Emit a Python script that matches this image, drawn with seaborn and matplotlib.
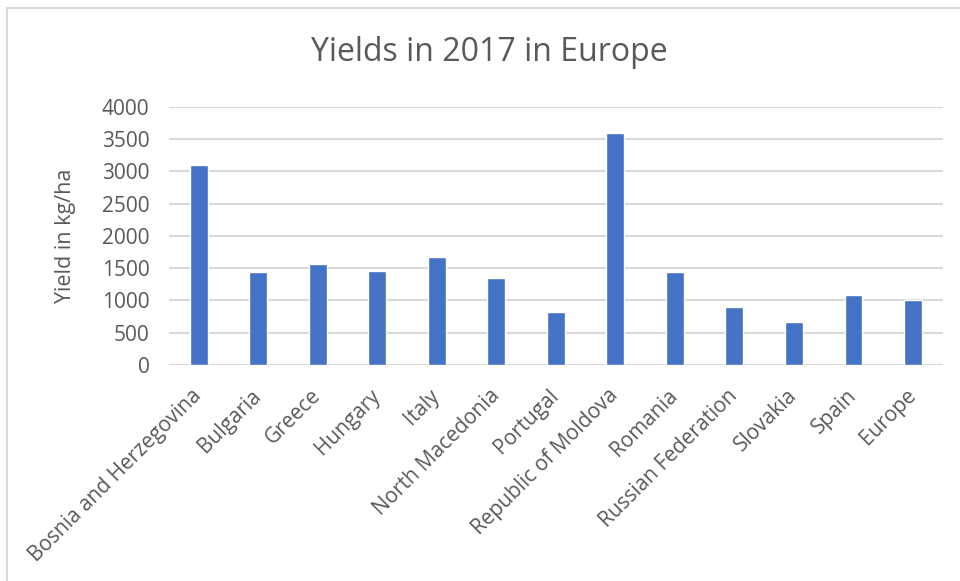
import matplotlib
matplotlib.use("Agg")
import matplotlib.pyplot as plt
import seaborn as sns
import pandas as pd
from matplotlib.patches import Rectangle

countries = ["Bosnia and Herzegovina", "Bulgaria", "Greece", "Hungary", "Italy",
             "North Macedonia", "Portugal", "Republic of Moldova", "Romania",
             "Russian Federation", "Slovakia", "Spain", "Europe"]
yields = [3100, 1440, 1560, 1460, 1680, 1340, 825, 3600, 1440, 905, 670, 1085, 1005]
y_ticks = [0, 500, 1000, 1500, 2000, 2500, 3000, 3500, 4000]

df = pd.DataFrame({"Country": countries, "Yield": yields})

sns.set_theme(style="white")
plt.rcParams["font.family"] = ["Open Sans", "DejaVu Sans"]

text_col = "#595959"
fig = plt.figure(figsize=(9.6, 5.81), dpi=100)
ax = fig.add_axes([0.176, 0.372, 0.806, 0.444])

sns.barplot(data=df, x="Country", y="Yield", color="#4472C4", width=0.3,
            saturation=1, ax=ax, zorder=3)

ax.set_ylim(0, 4000)
ax.set_yticks(y_ticks)
ax.set_yticklabels([str(t) for t in y_ticks], fontsize=15, color=text_col)
ax.yaxis.grid(True, color="#D9D9D9", linewidth=1.5, zorder=0)
ax.set_axisbelow(True)
ax.tick_params(axis="y", length=0, pad=14)
ax.tick_params(axis="x", length=0, pad=20)
ax.set_xticks(range(len(countries)))
ax.set_xticklabels(countries, rotation=45, ha="right", va="center",
                   rotation_mode="anchor", fontsize=15, color=text_col)
for s in ax.spines.values():
    s.set_visible(False)
ax.set_xlabel("")
ax.set_ylabel("Yield in kg/ha", fontsize=15.5, color=text_col)
ax.yaxis.set_label_coords(-93 / 774, 0.5)
ax.set_xlim(-0.5, len(countries) - 0.5)

fig.text(0.51, 0.91, "Yields in 2017 in Europe", ha="center", va="center",
         fontsize=23, color=text_col)

# chart border
fig.patches.append(Rectangle((7 / 960, -0.01), 1.0, 1 - 8 / 581 + 0.01,
                             transform=fig.transFigure, fill=False,
                             edgecolor="#D9D9D9", linewidth=1.5))

fig.savefig("out.png", dpi=100)
